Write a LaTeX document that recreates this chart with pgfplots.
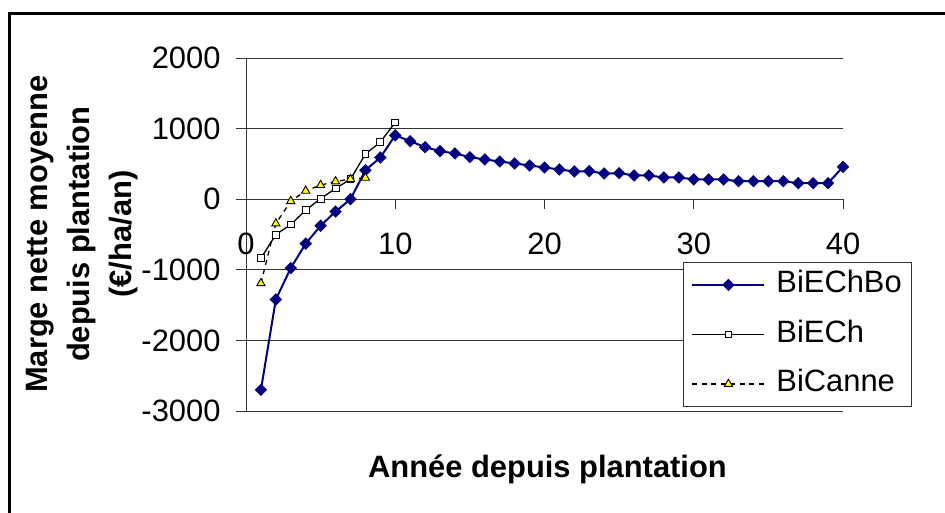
\documentclass[border=0pt]{standalone}
\usepackage{fontspec}
\setmainfont{Liberation Sans}
\usepackage{pgfplots}
\pgfplotsset{compat=1.18}
\definecolor{navyX}{RGB}{0,0,128}
\definecolor{yelX}{RGB}{255,255,0}
\begin{document}
\begin{tikzpicture}[x=1bp,y=1bp]
\useasboundingbox (0,0) rectangle (945,513);
\draw[line width=2.5bp] (9.5,-20) -- (9.5,499.3) -- (980,499.3);
\begin{axis}[
  at={(246bp,102bp)}, anchor=south west, scale only axis,
  width=597bp, height=353bp,
  xmin=0, xmax=40, ymin=-3000, ymax=2000,
  axis x line*=middle, axis y line*=left,
  hide obscured x ticks=false, hide obscured y ticks=false,
  xtick={0,10,20,30,40}, ytick={-3000,-2000,-1000,0,1000,2000},
  ymajorgrids, grid style={black!80, line width=0.9bp},
  tick align=outside, major tick length=10bp,
  tick style={black!80, line width=0.9bp},
  axis line style={black!80, line width=0.9bp},
  /pgf/number format/assume math mode=true,
  /pgf/number format/1000 sep={},
  scaled y ticks=false,
  tick label style={font=\fontsize{31}{37}\selectfont},
  xticklabel style={yshift=-20bp},
  yticklabel style={xshift=-12bp},
  xlabel={Année depuis plantation},
  xlabel style={at={(axis description cs:0.505,-0.164)}, anchor=center, font=\fontsize{31}{38}\selectfont\bfseries},
  ylabel={Marge nette moyenne\\depuis plantation\\(€/ha/an)},
  ylabel style={at={(axis description cs:-0.2747,0.501)}, anchor=center, align=center, font=\fontsize{31}{41.75}\selectfont\bfseries},
  legend style={at={(axis description cs:0.732,0.422)}, anchor=north west,
    draw=black!80, line width=0.9bp, fill=white,
    font=\fontsize{31}{37}\selectfont, row sep=17.5bp,
    inner xsep=8bp, inner ysep=6.5bp,
    nodes={inner sep=2bp, text height=22bp, text depth=6bp},
    /tikz/every odd column/.append style={column sep=9bp}},
  legend cell align=left,
  legend image code/.code={\draw[mark repeat=2,mark phase=2,#1] plot coordinates {(0bp,0bp) (36bp,0bp) (72bp,0bp)};},
]
\addplot[navyX, line width=2bp, mark=square*, mark size=3.4bp, mark options={rotate=45, solid, fill=navyX}]
coordinates {
(1,-2700) (2,-1420) (3,-975) (4,-630) (5,-375) (6,-175) (7,0) (8,410) (9,590) (10,905)
(11,822) (12,737) (13,681) (14,648) (15,596) (16,563) (17,534) (18,506) (19,478) (20,449)
(21,421) (22,392) (23,397) (24,364) (25,369) (26,336) (27,336) (28,308) (29,308) (30,281)
(31,279) (32,279) (33,255) (34,255) (35,255) (36,255) (37,227) (38,227) (39,227) (40,458)
};
\addlegendentry{BiEChBo}
\addplot[black, line width=1.3bp, mark=square*, mark size=3.4bp, mark options={solid, fill=white, draw=black, line width=0.9bp}]
coordinates {
(1,-837) (2,-501) (3,-359) (4,-156) (5,9) (6,151) (7,284) (8,638) (9,809) (10,1088)
};
\addlegendentry{BiECh}
\addplot[black, line width=1.3bp, dash pattern=on 5bp off 4.5bp, mark=triangle*, mark size=4.8bp, mark options={solid, fill=yelX, draw=black, line width=0.9bp}]
coordinates {
(1,-1191) (2,-345) (3,-28) (4,118) (5,199) (6,251) (7,284) (8,302)
};
\addlegendentry{BiCanne}
\end{axis}
\end{tikzpicture}
\end{document}
